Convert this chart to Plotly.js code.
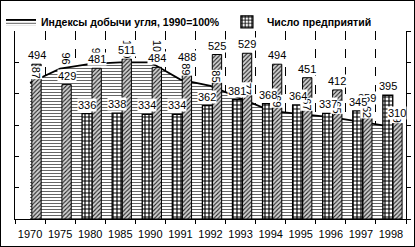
<!DOCTYPE html>
<html><head><meta charset="utf-8">
<script src="https://cdn.plot.ly/plotly-3.0.1.min.js"></script>
<style>
html,body{margin:0;padding:0;background:#fff;}
#chart{width:415px;height:247px;box-sizing:border-box;border:1px solid #000;}
</style>
</head><body><div id="chart"></div>
<script>
// Categories
const years = ['1970','1975','1980','1985','1990','1991','1992','1993','1994','1995','1996','1997','1998'];
// Coal production index, 1990 = 100%
const coalIndex = [87, 96, 99, 100, 100, 89, 85, 77, 69, 67, 65, 62, 59];
// Number of enterprises (brick bars)
const enterprises = [null, null, 336, 338, 334, 334, 362, 381, 368, 364, 337, 345, 395];
// Second (hatched) bar series
const hatchedSeries = [494, 429, 481, 511, 484, 488, 525, 529, 494, 451, 412, 359, 310];

const indexName = 'Индексы добычи угля, 1990=100%';
const enterprisesName = 'Число предприятий';

// bar placement inside each category (fractions of a category width)
const brickOffset = -0.27, brickWidth = 0.33;
const hatchOffset = 0.06, hatchWidth = 0.31;

const traces = [
  {
    type: 'scatter', mode: 'lines', name: indexName,
    x: years, y: coalIndex, xaxis: 'x', yaxis: 'y',
    fill: 'tozeroy',
    line: {color: '#000', width: 1.8},
    fillcolor: '#fff',
    fillpattern: {shape: '-', fgcolor: '#666', bgcolor: '#fff', size: 3, solidity: 0.35},
    hoverinfo: 'skip', legend: 'legend'
  },
  {
    type: 'bar', name: 'hatched', showlegend: false,
    x: years, y: hatchedSeries, xaxis: 'x', yaxis: 'y2',
    offset: hatchOffset, width: hatchWidth,
    marker: {color: '#ccc', line: {color: '#000', width: 1},
      pattern: {shape: '/', fgcolor: '#222', bgcolor: '#d0d0d0', size: 3, solidity: 0.35}}
  },
  {
    type: 'bar', name: enterprisesName,
    x: years, y: enterprises, xaxis: 'x', yaxis: 'y2',
    offset: brickOffset, width: brickWidth, legend: 'legend2',
    marker: {color: '#fff', line: {color: '#000', width: 1.3},
      pattern: {shape: '+', fgcolor: '#000', bgcolor: '#fff', size: 4, solidity: 0.5}}
  }
];

const labelBase = {showarrow: false, xref: 'x', font: {size: 11, color: '#000'},
  bgcolor: '#fff', borderpad: 0, xanchor: 'center', yanchor: 'bottom'};

const indexLabels = coalIndex.map((v, i) => Object.assign({}, labelBase, {
  x: i, y: v, yref: 'y', text: String(v), textangle: 90, xshift: 6, yshift: 3
}));
const hatchLabels = hatchedSeries.map((v, i) => Object.assign({}, labelBase, {
  x: i + hatchOffset + hatchWidth / 2, y: v, yref: 'y2', text: String(v), yshift: 2
}));
const brickLabels = enterprises.map((v, i) => v == null ? null : Object.assign({}, labelBase, {
  x: i + brickOffset + brickWidth / 2, y: v, yref: 'y2', text: String(v), yshift: 2
})).filter(a => a);

const layout = {
  width: 413, height: 245,
  margin: {l: 14, r: 8, t: 30, b: 27, autoexpand: false},
  paper_bgcolor: '#fff', plot_bgcolor: '#fff',
  font: {family: 'Liberation Sans, Arial, sans-serif', size: 11, color: '#000'},
  barmode: 'overlay',
  showlegend: true,
  legend: {orientation: 'h', xref: 'container', yref: 'container', x: -0.007, y: 0.915,
    xanchor: 'left', yanchor: 'middle',
    font: {size: 10.5, weight: 'bold'}, itemwidth: 30, bgcolor: 'rgba(0,0,0,0)'},
  legend2: {orientation: 'h', xref: 'container', yref: 'container', x: 0.547, y: 0.915,
    xanchor: 'left', yanchor: 'middle',
    font: {size: 10.5, weight: 'bold'}, itemwidth: 30, bgcolor: 'rgba(0,0,0,0)'},
  xaxis: {type: 'category', categoryorder: 'array', categoryarray: years,
    range: [-0.5, years.length - 0.5], autorange: false, automargin: false,
    tickson: 'boundaries', ticks: 'outside', ticklen: 4, tickcolor: '#000', tickangle: 0,
    ticklabelstandoff: 5,
    showline: true, linecolor: '#000', linewidth: 1,
    showgrid: true, gridcolor: '#000', griddash: 'dash', gridwidth: 1,
    tickfont: {size: 11}},
  yaxis: {range: [0, 120], autorange: false, automargin: false, dtick: 20, showgrid: false, zeroline: false, showline: true,
    linecolor: '#000', ticks: 'inside', ticklen: 4, tickcolor: '#000', showticklabels: false},
  yaxis2: {range: [0, 600], autorange: false, automargin: false, dtick: 100, overlaying: 'y', side: 'right', showgrid: false,
    zeroline: false, showline: true, linecolor: '#000', ticks: 'outside', ticklen: 4,
    tickcolor: '#000', showticklabels: false},
  annotations: indexLabels.concat(hatchLabels, brickLabels)
};

Plotly.newPlot('chart', traces, layout, {displayModeBar: false, staticPlot: true});
</script>
</body></html>
